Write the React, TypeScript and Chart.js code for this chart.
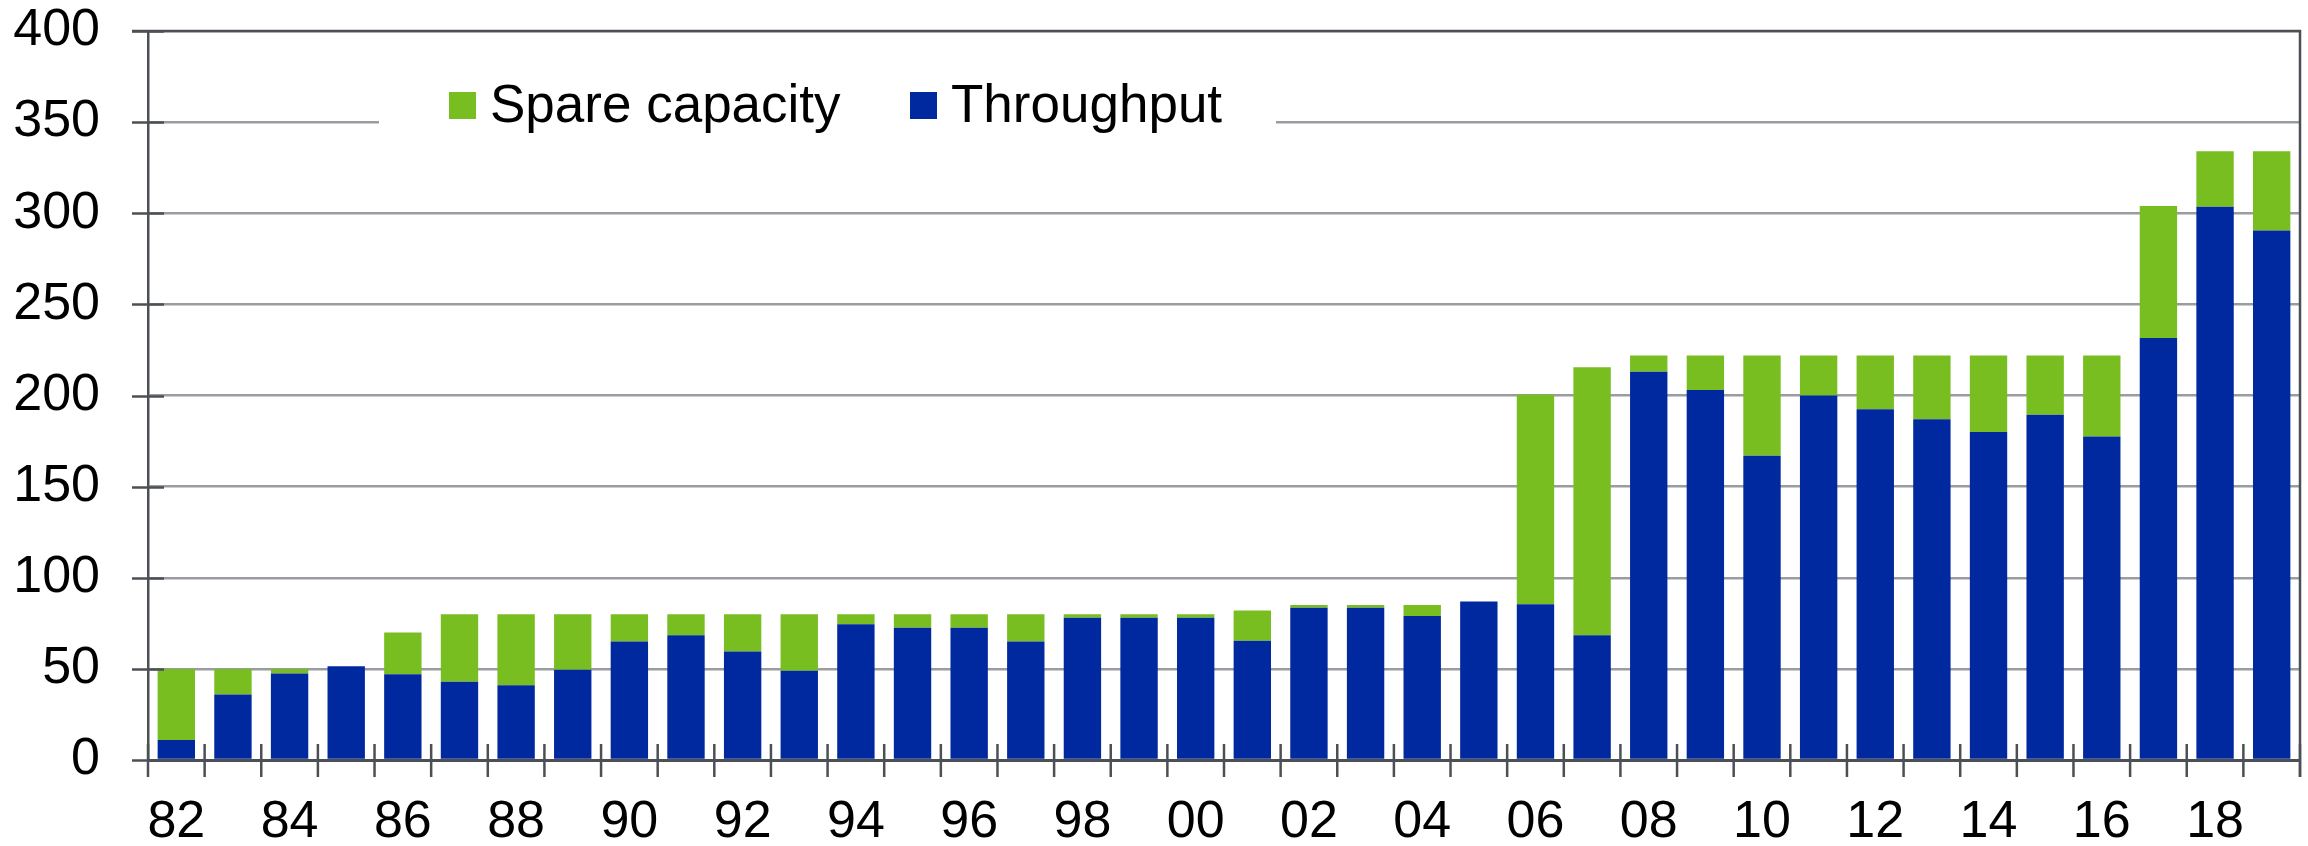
import React, { useEffect, useRef } from "react";
import { Chart, registerables } from "chart.js";

Chart.register(...registerables);

const years = [
  "82", "83", "84", "85", "86", "87", "88", "89", "90", "91",
  "92", "93", "94", "95", "96", "97", "98", "99", "00", "01",
  "02", "03", "04", "05", "06", "07", "08", "09", "10", "11",
  "12", "13", "14", "15", "16", "17", "18", "19",
];

const throughput = [
  11, 36, 47.5, 51.5, 47, 43, 41, 49.5, 65, 68.5,
  59.5, 49, 74.5, 72.5, 72.5, 65, 78, 78, 78, 65.5,
  83.5, 83.5, 79, 87, 85.5, 68.5, 213, 203, 167, 200,
  192.5, 187, 180, 189.5, 177.5, 231.5, 303.5, 290.5,
];

const spareCapacity = [
  39, 14, 2.5, -1, 23, 37, 39, 30.5, 15, 11.5,
  20.5, 31, 5.5, 7.5, 7.5, 15, 2, 2, 2, 16.5,
  1.5, 1.5, 6, -1.3, 115, 147, 9, 19, 55, 22,
  29.5, 35, 42, 32.5, 44.5, 72.5, 30.5, 43.5,
];

const seriesNames = ["Throughput", "Spare capacity"];
const legendOrder = ["Spare capacity", "Throughput"];
const yMin = 0;
const yMax = 400;
const yStep = 50;

const BLUE = "#0029A0";
const GREEN = "#79BE21";
const DARK = "#4c5055";
const GRID = "#999ca0";
const FONT = "'Liberation Sans', Arial, sans-serif";

const frame = {
  id: "frameTicks",
  afterDraw(chart: any) {
    const { ctx, chartArea } = chart;
    const { left, right, top, bottom } = chartArea;
    const y = chart.scales.y;
    ctx.save();
    ctx.strokeStyle = DARK;
    ctx.lineWidth = 2.5;
    ctx.beginPath();
    for (let v = yMin; v <= yMax; v += yStep) {
      const py = Math.round(y.getPixelForValue(v)) + 0.5;
      ctx.moveTo(left - 16, py);
      ctx.lineTo(left + 16, py);
    }
    const n = years.length;
    for (let i = 0; i <= n; i++) {
      const px = left + (i * (right - left)) / n;
      ctx.moveTo(px, bottom - 16);
      ctx.lineTo(px, bottom + 17);
    }
    ctx.stroke();
    ctx.beginPath();
    ctx.moveTo(left - 16, top);
    ctx.lineTo(right, top);
    ctx.lineTo(right, bottom + 17);
    ctx.stroke();
    ctx.restore();
  },
};

const legendPlugin = {
  id: "boxLegend",
  afterDatasetsDraw(chart: any) {
    const { ctx } = chart;
    ctx.save();
    ctx.fillStyle = "#ffffff";
    ctx.fillRect(379, 70, 897, 80);
    ctx.font = `53px ${FONT}`;
    ctx.textBaseline = "alphabetic";
    ctx.textAlign = "left";
    const boxX = [449, 910];
    legendOrder.forEach((name, i) => {
      const ds = chart.data.datasets.find((d: any) => d.label === name);
      ctx.fillStyle = ds.backgroundColor;
      ctx.fillRect(boxX[i], 92, 27, 27);
      ctx.fillStyle = "#000000";
      ctx.fillText(name, boxX[i] + 41, 122);
    });
    ctx.restore();
  },
};

export default function App() {
  const ref = useRef<HTMLCanvasElement>(null);

  useEffect(() => {
    if (!ref.current) return;
    const chart = new Chart(ref.current, {
      type: "bar",
      data: {
        labels: years,
        datasets: [
          {
            label: seriesNames[0],
            data: throughput,
            backgroundColor: BLUE,
            barPercentage: 0.66,
            categoryPercentage: 1,
          },
          {
            label: seriesNames[1],
            data: spareCapacity,
            backgroundColor: GREEN,
            barPercentage: 0.66,
            categoryPercentage: 1,
          },
        ],
      },
      options: {
        animation: false,
        responsive: false,
        devicePixelRatio: 1,
        layout: { padding: { top: 31, right: 8, left: 0, bottom: 0 } },
        plugins: {
          legend: { display: false },
          tooltip: { enabled: false },
        },
        scales: {
          x: {
            stacked: true,
            offset: true,
            grid: { display: false, drawTicks: false },
            border: { display: true, color: DARK, width: 3 },
            ticks: {
              autoSkip: false,
              maxRotation: 0,
              padding: 31,
              color: "#000000",
              font: { family: FONT, size: 52 },
              callback: (_v: any, i: number) => (i % 2 === 0 ? years[i] : ""),
            },
            afterFit: (s: any) => {
              s.height = 86;
              s.paddingLeft = 0;
              s.paddingRight = 0;
            },
          },
          y: {
            stacked: true,
            min: yMin,
            max: yMax,
            grid: { color: GRID, lineWidth: 2.5, drawTicks: false },
            border: { display: true, color: DARK, width: 2.5 },
            ticks: {
              stepSize: yStep,
              padding: 48,
              color: "#000000",
              font: { family: FONT, size: 52 },
            },
            afterFit: (s: any) => {
              s.width = 148;
              s.paddingTop = 0;
              s.paddingBottom = 0;
            },
          },
        },
      },
      plugins: [legendPlugin, frame],
    });
    return () => chart.destroy();
  }, []);

  return (
    <div style={{ position: "absolute", left: 0, top: 0, width: 2308, height: 846, background: "#fff" }}>
      <canvas ref={ref} width={2308} height={846} style={{ width: 2308, height: 846, display: "block" }} />
    </div>
  );
}
